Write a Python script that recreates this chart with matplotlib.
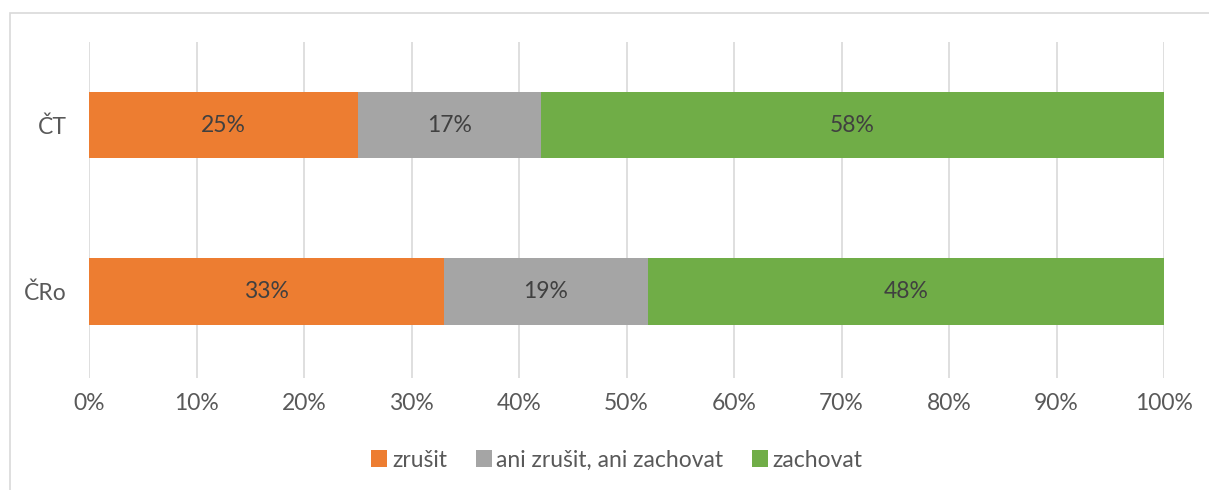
import matplotlib.pyplot as plt
from matplotlib.patches import Rectangle

plt.rcParams['font.family'] = ['Lato', 'DejaVu Sans']

categories = ['ČRo', 'ČT']
series_names = ['zrušit', 'ani zrušit, ani zachovat', 'zachovat']
values = {
    'zrušit': [33, 25],
    'ani zrušit, ani zachovat': [19, 17],
    'zachovat': [48, 58],
}
colors = ['#ED7D31', '#A5A5A5', '#70AD47']
xticks = [0, 10, 20, 30, 40, 50, 60, 70, 80, 90, 100]

fig = plt.figure(figsize=(12.09, 4.9), dpi=100)
ax = fig.add_axes([89 / 1209, 1 - 378 / 490, 1075 / 1209, 336 / 490])

fs = 16.5
left = [0, 0]
for name, c in zip(series_names, colors):
    vals = values[name]
    ax.barh(range(len(categories)), vals, left=left, height=0.4,
            color=c, label=name, zorder=2)
    for i, v in enumerate(vals):
        ax.text(left[i] + v / 2, i, f'{v}%', ha='center', va='center',
                fontsize=fs, color='#404040', zorder=3)
    left = [l + v for l, v in zip(left, vals)]

ax.set_xlim(0, 100)
ax.set_ylim(-0.52, 1.5)
ax.set_xticks(xticks)
ax.set_xticklabels([f'{t}%' for t in xticks])
ax.set_yticks(range(len(categories)))
ax.set_yticklabels(categories)
ax.tick_params(axis='both', length=0, labelsize=fs, labelcolor='#595959')
ax.tick_params(axis='x', pad=11)
ax.tick_params(axis='y', pad=16)
ax.grid(axis='x', color='#D9D9D9', linewidth=1.2, zorder=0)
for s in ax.spines.values():
    s.set_visible(False)

leg = fig.legend(loc='center', bbox_to_anchor=(617 / 1209, 1 - 460 / 490), ncol=3,
                 frameon=False, fontsize=fs, handlelength=0.7, handleheight=0.7,
                 handletextpad=0.2, columnspacing=1.25)
for t in leg.get_texts():
    t.set_color('#595959')

fig.patches.append(Rectangle((10 / 1209, -0.1), 1.2, 1 - 13 / 490 + 0.1,
                             transform=fig.transFigure, fill=False,
                             edgecolor='#D9D9D9', linewidth=1.2))

fig.savefig('out.png', dpi=100)
